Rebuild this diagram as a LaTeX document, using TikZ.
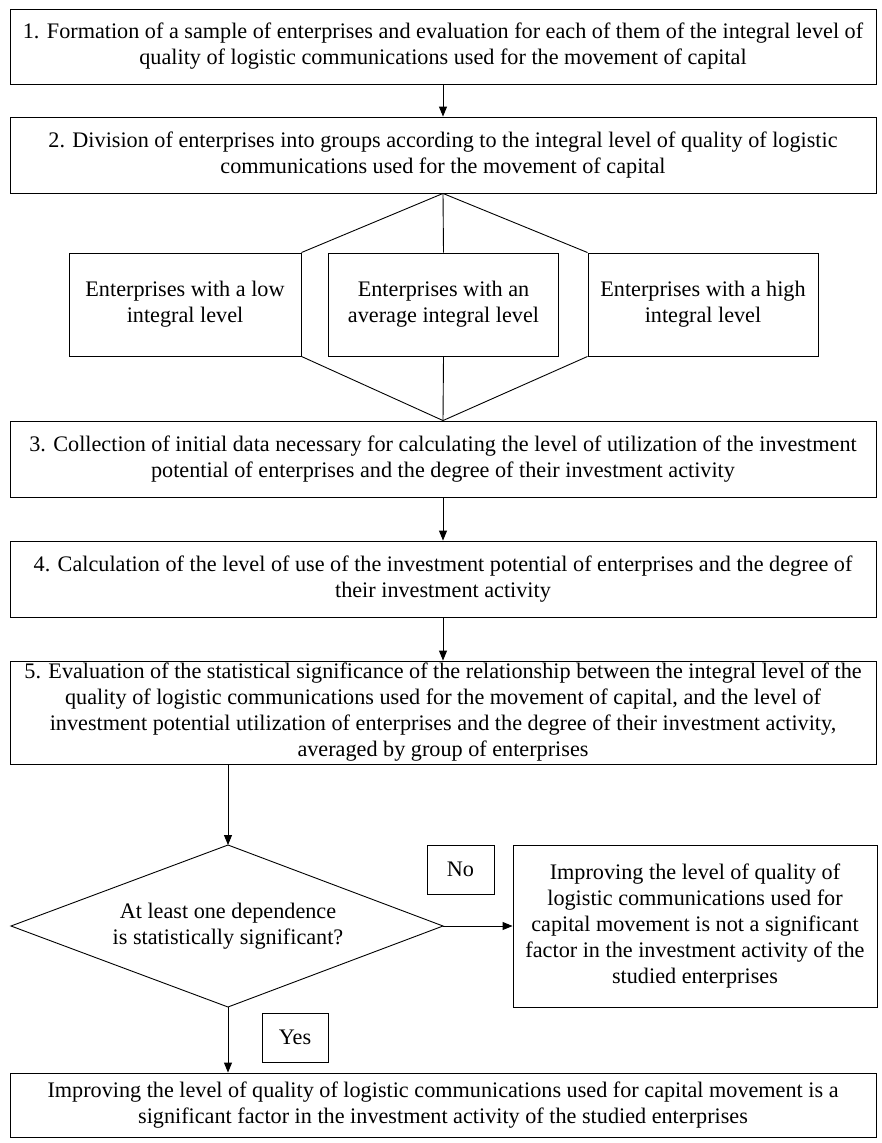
\documentclass[tikz,border=0pt]{standalone}
\usepackage{fontspec}
\setmainfont{Liberation Serif}
\usetikzlibrary{arrows.meta}
\tikzset{
  blk/.style={draw, line width=0.9pt, inner sep=0pt, align=center,
    font=\fontsize{22.2}{26}\selectfont},
  txt/.style={inner sep=0pt, align=center, font=\fontsize{22.2}{26}\selectfont},
  arr/.style={line width=0.9pt, -{Triangle[length=10pt,width=8pt]}},
  ln/.style={line width=0.9pt}
}
\begin{document}
\begin{tikzpicture}[x=1pt,y=-1pt]
\useasboundingbox (0,0) rectangle (882,1143);
\node[blk, minimum width=866, minimum height=75] (st1) at (443,46.5){1. Formation of a sample of enterprises and evaluation for each of them of the integral level of\\quality of logistic communications used for the movement of capital};
\node[blk, minimum width=866, minimum height=76] (st2) at (443,155){2. Division of enterprises into groups according to the integral level of quality of logistic\\communications used for the movement of capital};
\node[blk, minimum width=232, minimum height=103] (grlow) at (185,304.5){Enterprises with a low\\integral level};
\node[blk, minimum width=230, minimum height=103] (gravg) at (443.5,304.5){Enterprises with an\\average integral level};
\node[blk, minimum width=230, minimum height=103] (grhigh) at (703,304.5){Enterprises with a high\\integral level};
\node[blk, minimum width=866, minimum height=76] (st3) at (443,459){3. Collection of initial data necessary for calculating the level of utilization of the investment\\potential of enterprises and the degree of their investment activity};
\node[blk, minimum width=866, minimum height=76] (st4) at (443,579){4. Calculation of the level of use of the investment potential of enterprises and the degree of\\their investment activity};
\node[blk, minimum width=866, minimum height=103] (st5) at (443,712.5){5. Evaluation of the statistical significance of the relationship between the integral level of the\\quality of logistic communications used for the movement of capital, and the level of\\investment potential utilization of enterprises and the degree of their investment activity,\\averaged by group of enterprises};
% decision diamond
\node[txt] (dec) at (228,926){At least one dependence\\is statistically significant?};
\coordinate (dect) at (228,845);
\coordinate (decr) at (443,926);
\coordinate (decb) at (228,1007);
\coordinate (decl) at (11,926);
\draw[ln](dect) -- (decr) -- (decb) -- (decl) -- cycle;
\node[blk, minimum width=67, minimum height=49] (lno) at (460.5,869.5){No};
\node[blk, minimum width=364, minimum height=162] (resno) at (695,926){Improving the level of quality of\\logistic communications used for\\capital movement is not a significant\\factor in the investment activity of the\\studied enterprises};
\node[blk, minimum width=66, minimum height=49] (lyes) at (295,1037.5){Yes};
\node[blk, minimum width=866, minimum height=64] (resyes) at (443,1105){Improving the level of quality of logistic communications used for capital movement is a\\significant factor in the investment activity of the studied enterprises};
\draw[arr](st1) -- (st2);
\draw[ln](st2.south) -- (grlow.north east);
\draw[ln](st2.south) -- (gravg.north);
\draw[ln](st2.south) -- (grhigh.north west);
\draw[ln](grlow.south east) -- (st3.north);
\draw[ln](gravg.south) -- (st3.north);
\draw[ln](grhigh.south west) -- (st3.north);
\draw[arr](st3) -- (st4);
\draw[arr](st4) -- (st5);
\draw[arr](st5.south -| dect) -- (dect);
\draw[arr](decr) -- (resno.west);
\draw[arr](decb) -- (decb |- resyes.north);

\end{tikzpicture}
\end{document}
